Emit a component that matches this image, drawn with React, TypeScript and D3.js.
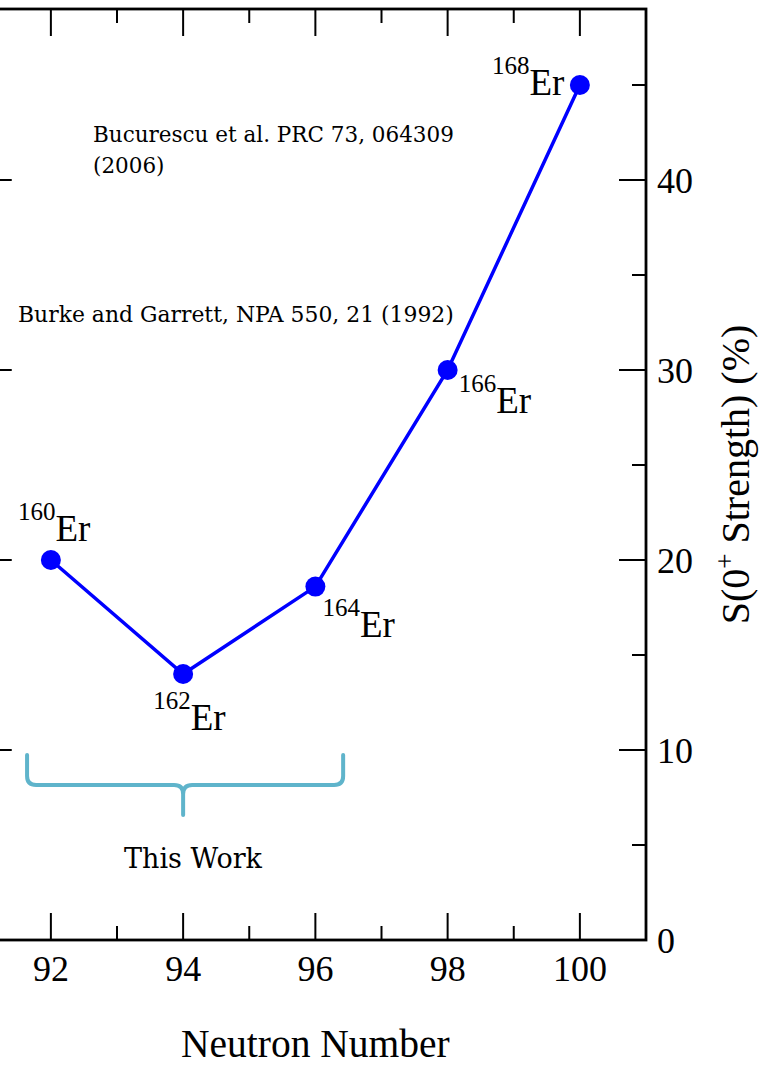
import React from "react";
import * as d3 from "d3";

// ---- data ----
const neutronNumbers = [92, 94, 96, 98, 100];
const strengths = [20, 14, 18.6, 30, 45];
const massNumbers = ["160", "162", "164", "166", "168"];
const element = "Er";
const xMajorTicks = [92, 94, 96, 98, 100];
const xMinorTicks = [91, 93, 95, 97, 99, 101];
const yMajorTicks = [0, 10, 20, 30, 40];
const yMinorTicks = [5, 15, 25, 35, 45];
const xTitle = "Neutron Number";
const refNotes = [
  { lines: ["Bucurescu et al. PRC 73, 064309", "(2006)"] },
  { lines: ["Burke and Garrett, NPA 550, 21 (1992)"] },
];
const braceLabel = "This Work";
const braceRange = { from: 91.64, mid: 94.0, to: 96.42 };

// ---- layout / style ----
const W = 769;
const H = 1065;
const serif = "'Liberation Serif', 'Times New Roman', serif";
const annFont = "'DejaVu Serif', serif";
const blue = "#0000ff";
const braceColor = "#5fb4cb";
const labelOffsets = [
  { dx: -33, dy: -19 },
  { dx: -30, dy: 56 },
  { dx: 7, dy: 50 },
  { dx: 11, dy: 43 },
  { dx: -88, dy: 10 },
];
const notePos = [
  { x: 93, y: 142, lh: 31, size: 21.5 },
  { x: 18, y: 322, lh: 31, size: 21.9 },
];

export default function App() {
  const x = d3.scaleLinear().domain([91, 101]).range([-15.25, 646]);
  const y = d3.scaleLinear().domain([0, 49]).range([940, 9]);
  const line = d3
    .line<number>()
    .x((_, i) => x(neutronNumbers[i]))
    .y((d) => y(d));

  const majLen = 27;
  const minLen = 14;
  const left = x(91);
  const right = x(101);
  const top = y(49);
  const bottom = y(0);

  // brace geometry
  const bl = x(braceRange.from);
  const bm = x(braceRange.mid);
  const br = x(braceRange.to);
  const bTop = y(9.74);
  const bH = y(8.16);
  const bTip = y(6.58);
  const r = 9;
  const bracePath = [
    `M${bl},${bTop}`,
    `L${bl},${bH - r}`,
    `Q${bl},${bH} ${bl + r},${bH}`,
    `L${bm - r},${bH}`,
    `Q${bm},${bH} ${bm},${bH + r}`,
    `L${bm},${bTip}`,
    `M${bm},${bH + r}`,
    `Q${bm},${bH} ${bm + r},${bH}`,
    `L${br - r},${bH}`,
    `Q${br},${bH} ${br},${bH - r}`,
    `L${br},${bTop}`,
  ].join(" ");

  return (
    <svg
      width={W}
      height={H}
      style={{ position: "absolute", left: 0, top: 0, background: "#fff" }}
    >
      <rect x={0} y={0} width={W} height={H} fill="#fff" />
      {/* frame */}
      <rect
        x={left}
        y={top}
        width={right - left}
        height={bottom - top}
        fill="none"
        stroke="#000"
        strokeWidth={2.8}
      />
      {/* x ticks top and bottom */}
      {xMajorTicks.map((t) => (
        <g key={"xM" + t}>
          <line x1={x(t)} x2={x(t)} y1={bottom} y2={bottom - majLen} stroke="#000" strokeWidth={2} />
          <line x1={x(t)} x2={x(t)} y1={top} y2={top + majLen} stroke="#000" strokeWidth={2} />
          <text x={x(t)} y={981} fontFamily={serif} fontSize={36} textAnchor="middle">
            {t}
          </text>
        </g>
      ))}
      {xMinorTicks.map((t) => (
        <g key={"xm" + t}>
          <line x1={x(t)} x2={x(t)} y1={bottom} y2={bottom - minLen} stroke="#000" strokeWidth={2} />
          <line x1={x(t)} x2={x(t)} y1={top} y2={top + minLen} stroke="#000" strokeWidth={2} />
        </g>
      ))}
      {/* y ticks on right */}
      {yMajorTicks.map((t) => (
        <g key={"yM" + t}>
          <line x1={right} x2={right - majLen} y1={y(t)} y2={y(t)} stroke="#000" strokeWidth={2} />
          <line x1={left} x2={left + majLen} y1={y(t)} y2={y(t)} stroke="#000" strokeWidth={2} />
          <text x={right + 11} y={y(t)} dy="0.35em" fontFamily={serif} fontSize={36}>
            {t}
          </text>
        </g>
      ))}
      {yMinorTicks.map((t) => (
        <g key={"ym" + t}>
          <line x1={right} x2={right - minLen} y1={y(t)} y2={y(t)} stroke="#000" strokeWidth={2} />
          <line x1={left} x2={left + minLen} y1={y(t)} y2={y(t)} stroke="#000" strokeWidth={2} />
        </g>
      ))}
      {/* axis titles */}
      <text x={x(96)} y={1057} fontFamily={serif} fontSize={39.5} textAnchor="middle">
        {xTitle}
      </text>
      <text
        transform={`translate(749,${y(24.5)}) rotate(-90)`}
        fontFamily={serif}
        fontSize={40}
        textAnchor="middle"
      >
        S(0
        <tspan fontSize={27} dy={-15}>
          +
        </tspan>
        <tspan dy={15}> Strength) (%)</tspan>
      </text>
      {/* data line */}
      <path d={line(strengths) || ""} fill="none" stroke={blue} strokeWidth={3.5} />
      {strengths.map((v, i) => (
        <circle key={"c" + i} cx={x(neutronNumbers[i])} cy={y(v)} r={10} fill={blue} />
      ))}
      {/* isotope labels */}
      {strengths.map((v, i) => (
        <text
          key={"l" + i}
          x={x(neutronNumbers[i]) + labelOffsets[i].dx}
          y={y(v) + labelOffsets[i].dy - 21}
          fontFamily={serif}
          fill="#000"
        >
          <tspan fontSize={25}>{massNumbers[i]}</tspan>
          <tspan fontSize={37} dy={21}>
            {element}
          </tspan>
        </text>
      ))}
      {/* reference notes */}
      {refNotes.map((n, i) => (
        <text key={"n" + i} fontFamily={annFont} fontSize={notePos[i].size} fill="#000">
          {n.lines.map((ln, j) => (
            <tspan key={j} x={notePos[i].x} y={notePos[i].y + j * notePos[i].lh}>
              {ln}
            </tspan>
          ))}
        </text>
      ))}
      {/* brace */}
      <path d={bracePath} fill="none" stroke={braceColor} strokeWidth={4} strokeLinecap="round" />
      <text x={193} y={868} fontFamily={annFont} fontSize={27} textAnchor="middle">
        {braceLabel}
      </text>
    </svg>
  );
}
